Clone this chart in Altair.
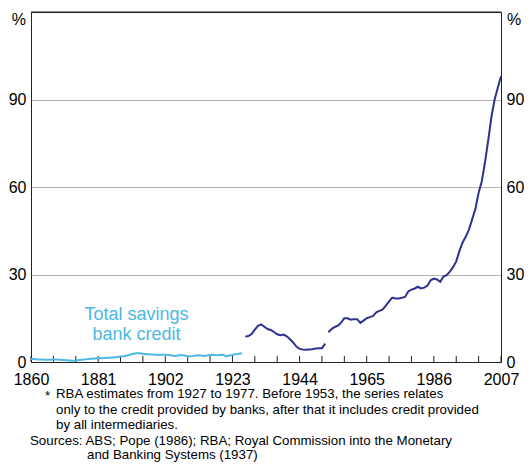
import altair as alt
import pandas as pd

FONT = "Liberation Sans, Arial, sans-serif"

# ---- data ----
light_years = list(range(1860, 1927))
light_values = [1.0, 1.0, 0.9, 0.9, 0.8, 0.8, 0.8, 0.9, 0.9, 0.8,
                0.7, 0.6, 0.5, 0.4, 0.5, 0.7, 0.8, 0.9, 1.0, 1.1,
                1.2, 1.3, 1.3, 1.4, 1.5, 1.5, 1.6, 1.7, 1.9, 2.0,
                2.2, 2.5, 2.8, 3.0, 3.0, 2.8, 2.7, 2.7, 2.6, 2.5,
                2.4, 2.5, 2.5, 2.4, 2.2, 2.1, 2.2, 2.4, 2.2, 2.0,
                2.0, 2.1, 2.3, 2.2, 2.1, 2.2, 2.4, 2.5, 2.3, 2.4,
                2.5, 1.9, 2.2, 2.4, 2.7, 2.8, 3.0]

bank_years = list(range(1927, 1953))
bank_values = [8.7, 8.9, 9.6, 11.1, 12.4, 12.9, 12.1, 11.3, 11.0, 10.3,
               9.5, 9.2, 9.4, 8.8, 7.8, 6.7, 5.3, 4.5, 4.3, 4.2,
               4.3, 4.4, 4.6, 4.7, 4.7, 6.3]

all_years = list(range(1953, 2008))
all_values = [10.2, 11.3, 12.0, 12.5, 13.5, 15.0, 15.0, 14.5, 14.7, 14.7,
              13.4, 14.2, 15.0, 15.4, 15.8, 17.0, 17.5, 18.0, 19.3, 20.8,
              22.1, 21.8, 21.8, 22.0, 22.3, 24.2, 24.8, 25.2, 25.8, 25.2,
              25.5, 26.2, 28.0, 28.6, 28.3, 27.5, 29.3, 29.8, 31.0, 32.5,
              34.5, 38.1, 41.0, 43.0, 45.5, 49.0, 52.5, 58.0, 62.0, 68.5,
              76.0, 84.0, 90.0, 94.0, 98.0]

x_label_years = [1860, 1881, 1902, 1923, 1944, 1965, 1986, 2007]
x_tick_years = list(range(1860, 2008, 7))
x_tick_len = 2.1          # tick length in axis units (%)
y_ticks = [0, 30, 60, 90]
y_max = 120
x_min, x_max = 1860, 2007

series_label_lines = ["Total savings", "bank credit"]
series_label_year = [1893, 1893]
series_label_value = [16.0, 9.2]

foot_star = "*"
foot_lines = [
    "RBA estimates from 1927 to 1977. Before 1953, the series relates",
    "only to the credit provided by banks, after that it includes credit provided",
    "by all intermediaries.",
]
source_lines = [
    "Sources: ABS; Pope (1986); RBA; Royal Commission into the Monetary",
    "and Banking Systems (1937)",
]

DARK = "#2E3192"
LIGHT = "#4CB8E4"
FRAME = "#222222"

df_light = pd.DataFrame({"year": light_years, "value": light_values})
df_dark = pd.concat([
    pd.DataFrame({"year": bank_years, "value": bank_values, "seg": "banks"}),
    pd.DataFrame({"year": all_years, "value": all_values, "seg": "all"}),
])
df_ticks = pd.DataFrame({"year": x_tick_years})
df_top = pd.DataFrame({"year": [x_min, x_max], "value": [y_max, y_max]})
df_lab = pd.DataFrame({"text": series_label_lines, "year": series_label_year,
                       "value": series_label_value})

xscale = alt.Scale(domain=[x_min, x_max], nice=False, zero=False)
yscale = alt.Scale(domain=[0, y_max], nice=False, zero=True)

x_axis = alt.Axis(values=x_label_years, ticks=False, domain=True, labelExpr="datum.value + ''",
                  domainColor=FRAME, grid=False, labelFontSize=16, labelPadding=9,
                  title=None, labelColor="#000", labelFont=FONT, labelFlush=False)

ticks = alt.Chart(df_ticks).mark_rule(color=FRAME, strokeWidth=1).encode(
    x=alt.X("year:Q", scale=xscale, axis=x_axis),
    y=alt.YDatum(0, scale=yscale, axis=None),
    y2=alt.datum(x_tick_len),
)

top_line = alt.Chart(df_top).mark_line(color=FRAME, strokeWidth=1).encode(
    x=alt.X("year:Q", scale=xscale, axis=x_axis),
    y=alt.Y("value:Q", scale=yscale, axis=None),
)

dark = alt.Chart(df_dark).mark_line(color=DARK, strokeWidth=2).encode(
    x=alt.X("year:Q", scale=xscale, axis=x_axis),
    y=alt.Y("value:Q", scale=yscale,
            axis=alt.Axis(values=y_ticks, orient="left", grid=True, gridColor="#b3b3b3",
                          gridWidth=1, ticks=False, domain=True, domainColor=FRAME,
                          labelFontSize=16, labelPadding=5, title=None, labelColor="#000",
                          labelFont=FONT, labelFlush=False)),
    detail="seg:N",
)

light = alt.Chart(df_light).mark_line(color=LIGHT, strokeWidth=2).encode(
    x=alt.X("year:Q", scale=xscale, axis=x_axis),
    y=alt.Y("value:Q", scale=yscale,
            axis=alt.Axis(values=y_ticks, orient="right", grid=False, ticks=False,
                          domain=True, domainColor=FRAME, labelFontSize=16, labelPadding=5,
                          title=None, labelColor="#000", labelFont=FONT, labelFlush=False)),
)

labels = alt.Chart(df_lab).mark_text(color=LIGHT, fontSize=18, font=FONT).encode(
    x=alt.X("year:Q", scale=xscale, axis=x_axis),
    y=alt.Y("value:Q", scale=yscale, axis=None),
    text="text:N",
)

pct_left = alt.Chart().mark_text(text="%", fontSize=16, font=FONT, align="right",
                                 color="#000").encode(x=alt.value(-5), y=alt.value(8))
pct_right = alt.Chart().mark_text(text="%", fontSize=16, font=FONT, align="left",
                                  color="#000").encode(x=alt.value(476), y=alt.value(8))

FS = 13.3
foot_layers = [
    alt.Chart().mark_text(text=foot_star, fontSize=FS, font=FONT, align="left",
                          color="#000").encode(x=alt.value(14), y=alt.value(384)),
]
foot_y = [382, 397.5, 412.5]
for i, line in enumerate(foot_lines):
    foot_layers.append(
        alt.Chart().mark_text(text=line, fontSize=FS, font=FONT, align="left", color="#000")
        .encode(x=alt.value(25), y=alt.value(foot_y[i])))
foot_layers.append(
    alt.Chart().mark_text(text=source_lines[0], fontSize=FS, font=FONT, align="left", color="#000")
    .encode(x=alt.value(-1), y=alt.value(428.5)))
foot_layers.append(
    alt.Chart().mark_text(text=source_lines[1], fontSize=FS, font=FONT, align="left", color="#000")
    .encode(x=alt.value(56), y=alt.value(443)))

chart = alt.layer(ticks, dark, light, top_line, labels, pct_left, pct_right,
                  *foot_layers).resolve_axis(
    y="independent"
).properties(
    width=470,
    height=350,
    padding={"left": 0, "top": 2, "right": 0, "bottom": 0},
    background="white",
).configure_view(stroke=FRAME, strokeWidth=1)

chart.save("out.html", embed_options={"renderer": "svg", "actions": False})
